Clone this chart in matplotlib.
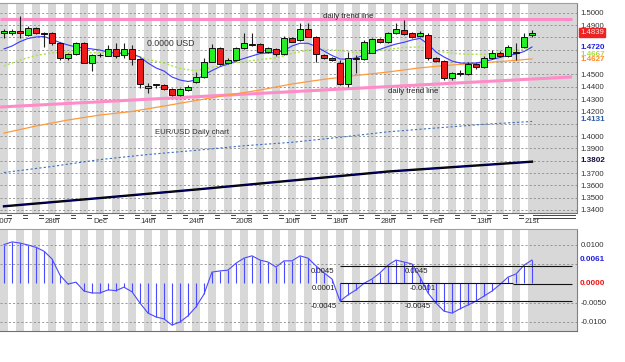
import matplotlib
matplotlib.use("Agg")
import matplotlib.pyplot as plt
import matplotlib.transforms as mtransforms
from matplotlib.lines import Line2D
import numpy as np

W, H = 625, 362
plt.rcParams['font.family'] = ['Liberation Sans', 'DejaVu Sans']

# ---------------- data ----------------
opens = [1.4833, 1.4839, 1.4854, 1.4819, 1.4873, 1.4835, 1.4833, 1.4752, 1.4630, 1.4665,
         1.4757, 1.4594, 1.4653, 1.4651, 1.4703, 1.4657, 1.4703, 1.4622, 1.4387, 1.4410,
         1.4414, 1.4379, 1.4333, 1.4373, 1.4435, 1.4481, 1.4603, 1.4711, 1.4590, 1.4616,
         1.4711, 1.4748, 1.4744, 1.4684, 1.4703, 1.4663, 1.4792, 1.4779, 1.4865, 1.4800,
         1.4657, 1.4635, 1.4590, 1.4422, 1.4635, 1.4622, 1.4676, 1.4784, 1.4765, 1.4833,
         1.4860, 1.4833, 1.4811, 1.4819, 1.4630, 1.4611, 1.4468, 1.4503, 1.4503, 1.4582,
         1.4557, 1.4630, 1.4676, 1.4649, 1.4681, 1.4719, 1.4819]
highs = [1.4868, 1.4864, 1.4973, 1.4892, 1.4884, 1.4843, 1.4843, 1.4762, 1.4673, 1.4762,
         1.4762, 1.4665, 1.4673, 1.4738, 1.4752, 1.4754, 1.4738, 1.4633, 1.4427, 1.4422,
         1.4422, 1.4389, 1.4389, 1.4414, 1.4519, 1.4633, 1.4746, 1.4722, 1.4633, 1.4722,
         1.4835, 1.4835, 1.4754, 1.4722, 1.4714, 1.4811, 1.4803, 1.4916, 1.4919, 1.4811,
         1.4665, 1.4641, 1.4616, 1.4684, 1.4657, 1.4779, 1.4795, 1.4795, 1.4843, 1.4916,
         1.4941, 1.4843, 1.4852, 1.4835, 1.4641, 1.4616, 1.4519, 1.4535, 1.4600, 1.4592,
         1.4649, 1.4698, 1.4689, 1.4738, 1.4754, 1.4835, 1.4860]
lows = [1.4795, 1.4819, 1.4795, 1.4811, 1.4827, 1.4722, 1.4738, 1.4616, 1.4616, 1.4657,
        1.4592, 1.4530, 1.4641, 1.4649, 1.4633, 1.4633, 1.4576, 1.4389, 1.4346, 1.4389,
        1.4373, 1.4325, 1.4325, 1.4365, 1.4430, 1.4470, 1.4600, 1.4576, 1.4584, 1.4608,
        1.4706, 1.4730, 1.4673, 1.4673, 1.4649, 1.4657, 1.4762, 1.4771, 1.4803, 1.4603,
        1.4625, 1.4608, 1.4414, 1.4400, 1.4509, 1.4616, 1.4673, 1.4754, 1.4754, 1.4827,
        1.4819, 1.4795, 1.4803, 1.4616, 1.4600, 1.4454, 1.4454, 1.4487, 1.4495, 1.4543,
        1.4551, 1.4625, 1.4641, 1.4641, 1.4616, 1.4714, 1.4803]
closes = [1.4854, 1.4852, 1.4833, 1.4873, 1.4833, 1.4827, 1.4752, 1.4630, 1.4665, 1.4757,
          1.4594, 1.4657, 1.4661, 1.4703, 1.4651, 1.4703, 1.4622, 1.4422, 1.4406, 1.4418,
          1.4379, 1.4333, 1.4379, 1.4395, 1.4481, 1.4603, 1.4716, 1.4584, 1.4616, 1.4711,
          1.4752, 1.4742, 1.4684, 1.4711, 1.4663, 1.4792, 1.4765, 1.4865, 1.4805, 1.4665,
          1.4630, 1.4616, 1.4422, 1.4630, 1.4622, 1.4765, 1.4784, 1.4765, 1.4833, 1.4865,
          1.4827, 1.4805, 1.4838, 1.4630, 1.4611, 1.4468, 1.4509, 1.4511, 1.4584, 1.4557,
          1.4630, 1.4676, 1.4649, 1.4719, 1.4673, 1.4805, 1.4838]

# fast moving average (blue), one value per candle
ma_fast = [1.4706, 1.4730, 1.4765, 1.4791, 1.4803, 1.4807, 1.4783, 1.4758, 1.4738, 1.4722,
           1.4714, 1.4706, 1.4697, 1.4681, 1.4673, 1.4671, 1.4665, 1.4641, 1.4592, 1.4552,
           1.4527, 1.4479, 1.4454, 1.4442, 1.4454, 1.4495, 1.4531, 1.4562, 1.4584, 1.4608,
           1.4629, 1.4649, 1.4669, 1.4673, 1.4677, 1.4693, 1.4730, 1.4752, 1.4752, 1.4726,
           1.4689, 1.4653, 1.4625, 1.4622, 1.4633, 1.4657, 1.4681, 1.4703, 1.4726, 1.4746,
           1.4760, 1.4779, 1.4792, 1.4746, 1.4681, 1.4641, 1.4608, 1.4592, 1.4590, 1.4592,
           1.4604, 1.4620, 1.4637, 1.4653, 1.4665, 1.4685, 1.4722]
# medium moving average (light green, dotted), every second candle
ma_mid_idx = list(range(0, 67, 2))
ma_mid = [1.4568, 1.4616, 1.4653, 1.4675, 1.4679, 1.4676, 1.4676, 1.4673, 1.4665, 1.4620,
          1.4592, 1.4547, 1.4530, 1.4556, 1.4588, 1.4604, 1.4620, 1.4633, 1.4669, 1.4697,
          1.4703, 1.4693, 1.4677, 1.4684, 1.4703, 1.4718, 1.4722, 1.4689, 1.4671, 1.4663,
          1.4663, 1.4676, 1.4697, 1.4714]
# slow moving average (orange), every fourth candle
ma_slow_idx = [0, 4, 8, 12, 16, 20, 24, 28, 32, 36, 40, 44, 48, 52, 56, 60, 64, 66]
ma_slow = [1.4024, 1.4081, 1.4130, 1.4170, 1.4199, 1.4243, 1.4288, 1.4333, 1.4373, 1.4422,
           1.4460, 1.4491, 1.4519, 1.4553, 1.4576, 1.4594, 1.4614, 1.4625]
# long moving average (blue dotted), every sixth candle
ma_long_idx = [0, 6, 12, 18, 24, 30, 36, 42, 48, 54, 60, 66]
ma_long = [1.3704, 1.3753, 1.3809, 1.3850, 1.3884, 1.3921, 1.3949, 1.3990, 1.4034, 1.4065,
           1.4095, 1.4118]
# very long moving average (black), every twelfth candle
ma_vlong_idx = [0, 12, 24, 36, 48, 60, 66]
ma_vlong = [1.3430, 1.3497, 1.3566, 1.3639, 1.3712, 1.3765, 1.3792]

# trend lines (index, price)
trend_x = [-0.5, 71.0]
trend_upper = [1.4949, 1.4949]
trend_lower = [1.4235, 1.4479]

# MACD values per candle
macd = [0.0100, 0.0107, 0.0104, 0.0099, 0.0093, 0.0083, 0.0063, 0.0021, -0.0002, 0.0003,
        -0.0020, -0.0025, -0.0025, -0.0017, -0.0019, -0.0010, -0.0022, -0.0051, -0.0077, -0.0087,
        -0.0092, -0.0108, -0.0100, -0.0084, -0.0061, -0.0028, 0.0029, 0.0032, 0.0034, 0.0052,
        0.0065, 0.0071, 0.0060, 0.0055, 0.0042, 0.0058, 0.0058, 0.0071, 0.0065, 0.0045,
        0.0027, 0.0011, -0.0046, -0.0030, -0.0017, -0.0000, 0.0011, 0.0027, 0.0047, 0.0060,
        0.0055, 0.0050, 0.0016, -0.0025, -0.0051, -0.0072, -0.0077, -0.0066, -0.0056, -0.0046,
        -0.0033, -0.0020, -0.0003, 0.0016, 0.0024, 0.0047, 0.0060]

date_idx = [0, 6, 12, 18, 24, 30, 36, 42, 48, 54, 60, 66]
date_labels = ['2007', '28th', 'Dec', '14th', '24th', '2008', '10th', '18th', '28th', 'Feb', '13th', '21st']

price_ticks = [1.34, 1.35, 1.36, 1.37, 1.38, 1.39, 1.40, 1.41, 1.42, 1.43, 1.44, 1.45,
               1.46, 1.47, 1.48, 1.49, 1.50]
price_labels = ['1.3400', '1.3500', '1.3600', '1.3700', '', '1.3900', '1.4000', '', '1.4200',
                '1.4300', '1.4400', '1.4500', '', '', '', '1.4900', '1.5000']
macd_ticks = [-0.01, -0.005, 0.0, 0.005, 0.01]
macd_labels = ['-0.0100', '-0.0050', '', '', '0.0100']

# channel levels drawn on the MACD panel
chan_levels = [0.0045, 0.0001, -0.0045]

n = len(opens)
idx = np.arange(n)

# ---------------- figure ----------------
fig = plt.figure(figsize=(W / 100, H / 100), dpi=100)
fig.patch.set_facecolor('white')

def fy(y):
    return 1 - y / H

ax = fig.add_axes([0, fy(212.5), 577 / W, (212.5 - 3) / H])
ax2 = fig.add_axes([0, fy(331), 577 / W, (331 - 229) / H])

XMIN, XMAX = -0.5, -0.5 + 577 / 8
STRIPE = '#d8d8d8'
for a in (ax, ax2):
    a.set_xlim(XMIN, XMAX)
    a.set_facecolor('white')
    for i in range(0, 65, 2):
        a.axvspan(i - 0.5, i + 0.5, color=STRIPE, lw=0, zorder=0)
    a.axvspan(65.5, XMAX, color=STRIPE, lw=0, zorder=0)
    a.spines['left'].set_visible(False)
    a.spines['top'].set_color('#a0a0a0')
    a.spines['right'].set_color('#808080')
    a.spines['bottom'].set_color('#707070')
    for s in a.spines.values():
        s.set_linewidth(0.8)

# main price panel
ax.set_ylim(1.33797, 1.50787)
ax.set_yticks(price_ticks)
ax.set_yticklabels(price_labels)
ax.yaxis.tick_right()
ax.tick_params(axis='y', length=0, pad=2.5, labelsize=5.6, labelcolor='#333333')
ax.grid(axis='y', color='#8a8a8a', lw=0.6, ls=(0, (2.5, 2.5)), zorder=1)
ax.set_axisbelow(True)
ax.set_xticks(date_idx)
ax.set_xticklabels(date_labels)
ax.tick_params(axis='x', length=0, pad=4, labelsize=5.6, labelcolor='#333333')

# trend lines
PINK = '#ff8cc8'
ax.plot(trend_x, trend_upper, color=PINK, lw=2.2, zorder=2, solid_capstyle='butt')
ax.plot(trend_x, trend_lower, color=PINK, lw=2.2, zorder=2, solid_capstyle='butt')

# moving averages
ax.plot(ma_vlong_idx, ma_vlong, color='black', lw=1.7, zorder=2)
ax.plot(ma_vlong_idx, ma_vlong, color='#000080', lw=0.6, zorder=2)
ax.plot(ma_long_idx, ma_long, color='#3a6fc0', lw=0.8, ls=(0, (2, 2)), zorder=2)
ax.plot(ma_slow_idx, ma_slow, color='#ff9a3c', lw=0.9, zorder=2)
ax.plot(ma_mid_idx, ma_mid, color='#a6e83c', lw=1.0, ls=(0, (1.5, 1.5)), zorder=2)
ax.plot(idx, ma_fast, color='#3a3aff', lw=0.8, zorder=2)

# candles
o = np.array(opens); c = np.array(closes); hi = np.array(highs); lo = np.array(lows)
up = c >= o
ax.vlines(idx, lo, hi, color='#202020', lw=0.8, zorder=3)
body_lo = np.minimum(o, c)
body_h = np.maximum(np.abs(c - o), 0.0004)
ax.bar(idx[up], body_h[up], bottom=body_lo[up], width=0.82, color='#22f022',
       edgecolor='#101010', lw=0.7, zorder=4)
ax.bar(idx[~up], body_h[~up], bottom=body_lo[~up], width=0.82, color='#ee1a1a',
       edgecolor='#101010', lw=0.7, zorder=4)

# tick marks "=" under the price panel
tr = mtransforms.blended_transform_factory(ax.transData, fig.transFigure)
for k in range(0, 33):
    xc = 0.625 + 2 * k
    for yy in (215.2, 217.6):
        fig.add_artist(Line2D([xc - 0.3, xc + 0.3], [fy(yy), fy(yy)], transform=tr,
                              color='#444444', lw=0.7))
for yy in (215.2, 217.6):
    fig.add_artist(Line2D([66.1, XMAX - 0.2], [fy(yy), fy(yy)], transform=tr,
                          color='#444444', lw=0.7))

# right side coloured value labels
rtr = mtransforms.blended_transform_factory(ax.transAxes, ax.transData)
xl = 1 + 3 / 577
ax.text(xl, 1.4839, '1.4839', transform=rtr, fontsize=5.6, color='#f0f0f0', va='center',
        ha='left', clip_on=False,
        bbox=dict(boxstyle='square,pad=0.12', facecolor='#ee2222', edgecolor='#ee2222'))
ax.text(xl, 1.4720, '1.4720', transform=rtr, fontsize=5.8, color='#2020e0', va='center',
        ha='left', fontweight='bold', clip_on=False)
ax.text(xl, 1.4664, '1.4667', transform=rtr, fontsize=5.8, color='#a8e040', va='center',
        ha='left', fontweight='bold', clip_on=False)
ax.text(xl, 1.4622, '1.4627', transform=rtr, fontsize=5.8, color='#ff8c20', va='center',
        ha='left', fontweight='bold', clip_on=False)
ax.text(xl, 1.4131, '1.4131', transform=rtr, fontsize=5.8, color='#2a5aa8', va='center',
        ha='left', fontweight='bold', clip_on=False)
ax.text(xl, 1.3802, '1.3802', transform=rtr, fontsize=5.8, color='#101040', va='center',
        ha='left', fontweight='bold', clip_on=False)

# chart annotations
fig.text(323 / W, fy(17), 'daily trend line', fontsize=5.6, color='#222222', va='center', ha='left')
fig.text(388 / W, fy(91.5), 'daily trend line', fontsize=5.6, color='#222222', va='center', ha='left')
fig.text(147 / W, fy(43.5), '0.0000 USD', fontsize=6.3, color='#333333', va='center', ha='left')
fig.text(155 / W, fy(133), 'EUR/USD Daily chart', fontsize=5.6, color='#333333', va='center', ha='left')

# MACD panel
ax2.set_ylim(-0.012326, 0.014031)
ax2.set_yticks(macd_ticks)
ax2.set_yticklabels(macd_labels)
ax2.yaxis.tick_right()
ax2.tick_params(axis='y', length=0, pad=2.5, labelsize=5.6, labelcolor='#333333')
ax2.set_xticks([])
for v in (-0.01, -0.005, 0.005, 0.01):
    ax2.axhline(v, color='#8a8a8a', lw=0.6, ls=(0, (2.5, 2.5)), zorder=1)
MB = '#4a4aff'
ax2.vlines(idx, 0, macd, color=MB, lw=0.8, zorder=2)
ax2.plot(idx, macd, color=MB, lw=0.8, zorder=3)

ax2.hlines([chan_levels[0], chan_levels[2]], 42, 71, color='#111111', lw=0.8, zorder=4)
ax2.hlines(chan_levels[1], 42, 63.6, color='#111111', lw=0.8, zorder=4)
ax2.hlines(-0.0002, 63.6, 71, color='#111111', lw=0.8, zorder=4)

for x0 in (311, 405):
    fig.text(x0 / W, fy(271.5), '0.0045', fontsize=5.6, color='#222222', va='center', ha='left')
    fig.text(x0 / W, fy(306.5), '-0.0045', fontsize=5.6, color='#222222', va='center', ha='left')
fig.text(312 / W, fy(288), '0.0001', fontsize=5.6, color='#222222', va='center', ha='left')
fig.text(410 / W, fy(289), '-0.0001', fontsize=5.6, color='#222222', va='center', ha='left')

rtr2 = mtransforms.blended_transform_factory(ax2.transAxes, ax2.transData)
ax2.text(xl, 0.0061, '0.0061', transform=rtr2, fontsize=5.8, color='#2020e0', va='center',
         ha='left', fontweight='bold', clip_on=False)
ax2.text(xl, 0.0, '0.0000', transform=rtr2, fontsize=5.8, color='#ee1111', va='center',
         ha='left', fontweight='bold', clip_on=False)

fig.savefig('out.png', dpi=100, facecolor='white')
